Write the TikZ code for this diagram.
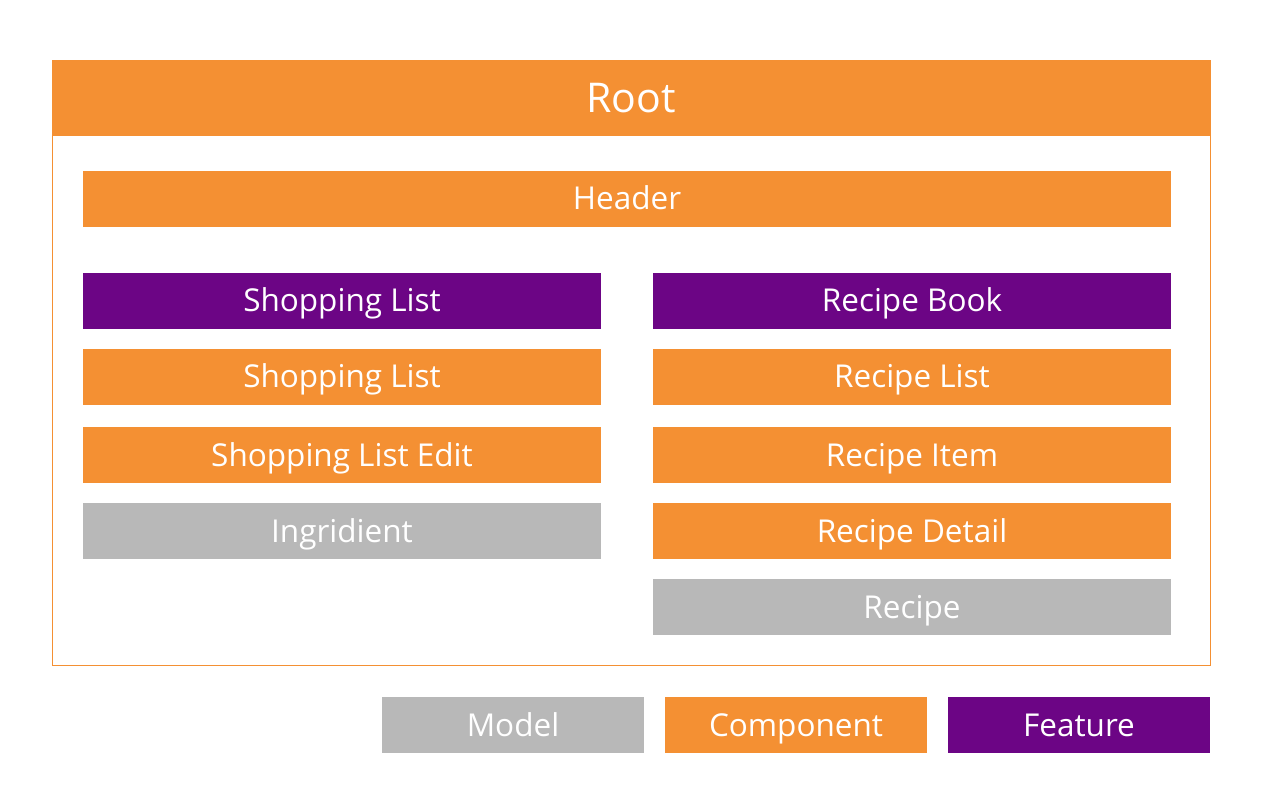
\documentclass[tikz,border=0pt]{standalone}
\usepackage{fontspec}
\setmainfont{Open Sans}
\definecolor{corange}{HTML}{F49033}
\definecolor{cpurple}{HTML}{6C0585}
\definecolor{cgray}{HTML}{B8B8B8}
\begin{document}
\begin{tikzpicture}[x=1pt,y=-1pt,
  blk/.style={inner sep=0pt, outer sep=0pt, text=white, font=\fontsize{31.5}{34}\selectfont, minimum height=56pt, text height=25pt, text depth=3pt},
  comp/.style={blk, fill=corange},
  feat/.style={blk, fill=cpurple},
  model/.style={blk, fill=cgray},
  col/.style={minimum width=518pt},
  leg/.style={minimum width=262pt}]
\useasboundingbox (0,0) rectangle (1280,802);
% outer frame
\node[draw=corange, line width=1pt, minimum width=1158pt, minimum height=605pt, inner sep=0pt, anchor=north west] (frame) at (52,60) {};
\node[comp, minimum width=1158pt, minimum height=76pt, anchor=north west, font=\fontsize{41}{44}\selectfont, text height=32pt, text depth=3pt] (root) at (52,60) {Root};
\node[comp, minimum width=1088pt] (header) at (627,199) {Header};
% left column
\node[feat, col] (slf) at (342,301) {Shopping List};
\node[comp, col] (slc) at (342,377) {Shopping List};
\node[comp, col] (sle) at (342,455) {Shopping List Edit};
\node[model, col] (ing) at (342,531) {Ingridient};
% right column
\node[feat, col] (rb) at (912,301) {Recipe Book};
\node[comp, col] (rl) at (912,377) {Recipe List};
\node[comp, col] (ri) at (912,455) {Recipe Item};
\node[comp, col] (rd) at (912,531) {Recipe Detail};
\node[model, col] (rm) at (912,607) {Recipe};
% legend
\node[model, leg] (lm) at (513,725) {Model};
\node[comp, leg] (lc) at (796,725) {Component};
\node[feat, leg] (lf) at (1079,725) {Feature};
\end{tikzpicture}
\end{document}
